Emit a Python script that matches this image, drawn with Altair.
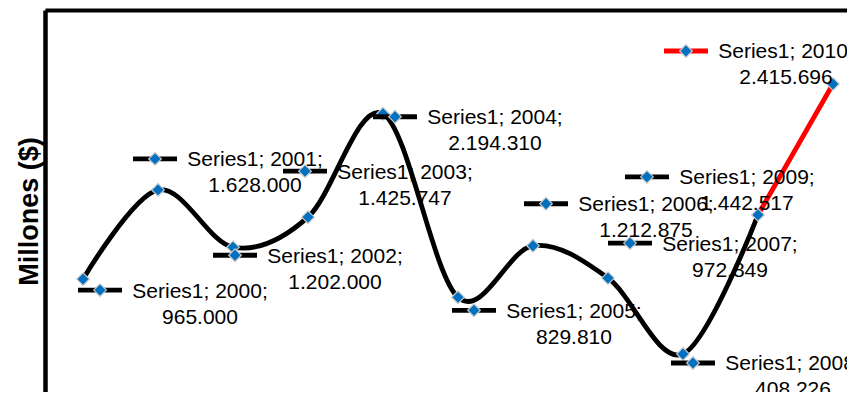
import altair as alt
import pandas as pd

# ---- data ----
years = [2000, 2001, 2002, 2003, 2004, 2005, 2006, 2007, 2008, 2009, 2010]
values = [965000, 1628000, 1202000, 1425747, 2194310, 829810, 1212875, 972849, 408226, 1442517, 2415696]
series_name = "Series1"
y_title = "Millones ($)"

# ---- layout: pixel offset of each data label's legend key from its point ----
key_dx = [17, -3, 2, -3, 12, 16, 13, 22, 10, -111, -147]
key_dy = [11, -31, 8, -46, 3, 13, -42, -35, 9, -38, -33]


def fmt(v):
    return f"{v:,}".replace(",", ".")


df = pd.DataFrame({
    "year": years,
    "value": values,
    "key_dx": key_dx,
    "key_dy": key_dy,
    "label": [f"{series_name}; {y};\n{fmt(v)}" for y, v in zip(years, values)],
})

FONT = "Liberation Sans"
BLUE = "#0070C0"
EDGE = "#c8c8c8"

x_enc = alt.X(
    "year:Q",
    scale=alt.Scale(domain=[1999.493, 2010.187], nice=False, zero=False),
    axis=alt.Axis(orient="top", labels=False, ticks=False, grid=False,
                  domainWidth=4, domainColor="black", title=None),
)
y_enc = alt.Y(
    "value:Q",
    scale=alt.Scale(domain=[125650, 2965800], nice=False, zero=False),
    axis=alt.Axis(labels=False, ticks=False, grid=False, domainWidth=4.5,
                  domainColor="black", title=y_title, titleAngle=270,
                  titleX=-8, titleY=201, titleAlign="center",
                  titleBaseline="alphabetic", titleFont=FONT,
                  titleFontSize=27, titleFontWeight="bold", titleColor="black"),
)

# label pieces are placed through the shared scales plus a pixel offset
kx = alt.value({"expr": "scale('x', datum.year) + datum.key_dx"})
ky = alt.value({"expr": "scale('y', datum.value) + datum.key_dy"})

base = alt.Chart(df)

black_line = base.transform_filter("datum.year <= 2009").mark_line(
    interpolate="cardinal", color="black", strokeWidth=4.8, strokeCap="round"
).encode(x=x_enc, y=y_enc)

red_line = base.transform_filter("datum.year >= 2009").mark_line(
    color="#FF0000", strokeWidth=4.8, strokeCap="round"
).encode(x=x_enc, y=y_enc)

points = base.mark_point(
    shape="diamond", filled=True, size=160, fill=BLUE, stroke=EDGE,
    strokeWidth=1.2, opacity=1
).encode(x=x_enc, y=y_enc)

key_lines = base.mark_point(
    shape="M-1,0L1,0", filled=False, size=1936, strokeWidth=4.8,
    strokeCap="butt", opacity=1
).encode(
    x=kx, y=ky,
    stroke=alt.condition("datum.year == 2010", alt.value("#FF0000"), alt.value("black")),
)

key_diamonds = base.mark_point(
    shape="diamond", filled=True, size=160, fill=BLUE, stroke=EDGE,
    strokeWidth=1.2, opacity=1
).encode(x=kx, y=ky)

labels = base.mark_text(
    font=FONT, fontSize=21, color="black", align="center",
    baseline="alphabetic", lineBreak="\n", lineHeight=26, dx=100, dy=7.5
).encode(x=kx, y=ky, text="label:N")

chart = alt.layer(
    black_line, red_line, points, key_lines, key_diamonds, labels
).properties(
    width=802, height=382,
    padding={"left": 37, "top": 2, "right": 0, "bottom": 0},
    autosize="none", background="white",
).configure_view(stroke=None)

chart.save("out.html", embed_options={"renderer": "svg", "actions": False})
